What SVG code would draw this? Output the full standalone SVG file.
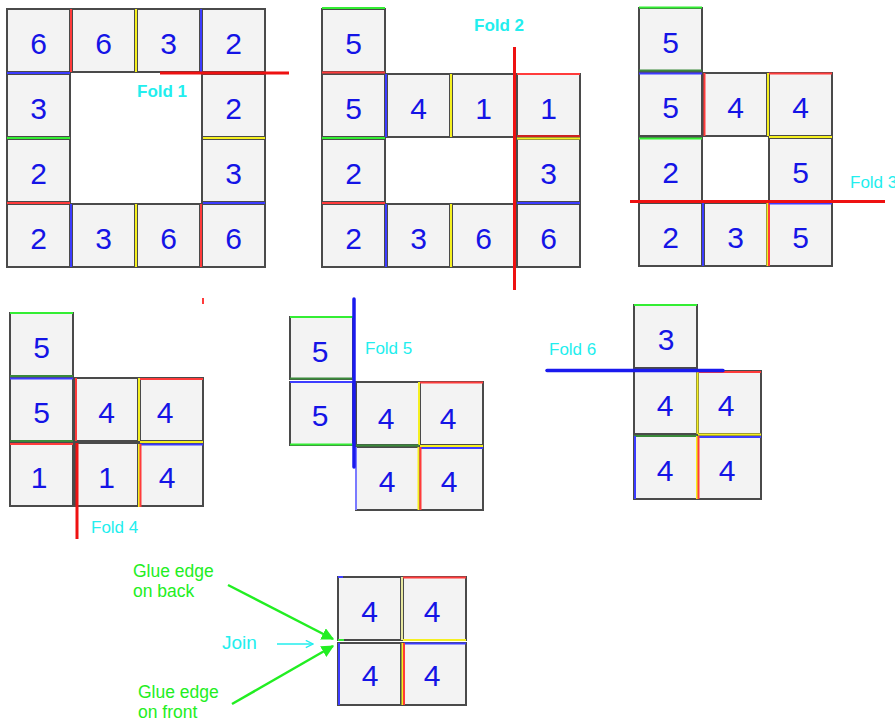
<svg xmlns="http://www.w3.org/2000/svg" width="895" height="721" viewBox="0 0 895 721">
<style>
.sq{fill:#f3f3f3;stroke:#4a4a4a;stroke-width:2}
.n{font-family:"Liberation Sans",Arial,sans-serif;font-size:30px;fill:#1414e6;text-anchor:middle}
.e{stroke-width:2;fill:none}
.r{stroke:#ff3b3b}.b{stroke:#3c3cff}.g{stroke:#33ee33}.y{stroke:#f5f020}.dg{stroke:#3a8a3a}
.fr{stroke:#ee1111;stroke-width:3}.fb{stroke:#1a1aee;stroke-width:3.5;stroke-linecap:round}
.fl{font-family:"Liberation Sans",Arial,sans-serif;font-size:17px;fill:#22eeee}
.gl{font-family:"Liberation Sans",Arial,sans-serif;font-size:17.5px;fill:#22ee22}
</style>
<defs>
<marker id="ag" viewBox="0 0 10 10" refX="9" refY="5" markerWidth="5" markerHeight="5" orient="auto"><path d="M0,0 L10,5 L0,10 z" fill="#22ee22"/></marker>
<marker id="ac" viewBox="0 0 10 10" refX="9" refY="5" markerWidth="6" markerHeight="6" orient="auto"><path d="M1,1 L9,5 L1,9" fill="none" stroke="#22eeee" stroke-width="1.5"/></marker>
</defs>
<!-- Panel 1 -->
<g id="p1-s1"><rect class="sq" x="7" y="9" width="63" height="63"/><text class="n" x="38.5" y="54">6</text></g>
<g id="p1-s2"><rect class="sq" x="72" y="9" width="63" height="63"/><text class="n" x="103.5" y="54">6</text></g>
<g id="p1-s3"><rect class="sq" x="137" y="9" width="63" height="63"/><text class="n" x="168.5" y="54">3</text></g>
<g id="p1-s4"><rect class="sq" x="202" y="9" width="63" height="63"/><text class="n" x="233.5" y="54">2</text></g>
<g id="p1-s5"><rect class="sq" x="7" y="74" width="63" height="63"/><text class="n" x="38.5" y="119">3</text></g>
<g id="p1-s6"><rect class="sq" x="202" y="74" width="63" height="63"/><text class="n" x="233.5" y="119">2</text></g>
<g id="p1-s7"><rect class="sq" x="7" y="139" width="63" height="63"/><text class="n" x="38.5" y="184">2</text></g>
<g id="p1-s8"><rect class="sq" x="202" y="139" width="63" height="63"/><text class="n" x="233.5" y="184">3</text></g>
<g id="p1-s9"><rect class="sq" x="7" y="204" width="63" height="63"/><text class="n" x="38.5" y="249">2</text></g>
<g id="p1-s10"><rect class="sq" x="72" y="204" width="63" height="63"/><text class="n" x="103.5" y="249">3</text></g>
<g id="p1-s11"><rect class="sq" x="137" y="204" width="63" height="63"/><text class="n" x="168.5" y="249">6</text></g>
<g id="p1-s12"><rect class="sq" x="202" y="204" width="63" height="63"/><text class="n" x="233.5" y="249">6</text></g>
<!-- Panel 2 -->
<g id="p2-s1"><rect class="sq" x="322" y="9" width="63" height="63"/><text class="n" x="353.5" y="54">5</text></g>
<g id="p2-s2"><rect class="sq" x="322" y="74" width="63" height="63"/><text class="n" x="353.5" y="119">5</text></g>
<g id="p2-s3"><rect class="sq" x="387" y="74" width="63" height="63"/><text class="n" x="418.5" y="119">4</text></g>
<g id="p2-s4"><rect class="sq" x="452" y="74" width="63" height="63"/><text class="n" x="483.5" y="119">1</text></g>
<g id="p2-s5"><rect class="sq" x="517" y="74" width="63" height="63"/><text class="n" x="548.5" y="119">1</text></g>
<g id="p2-s6"><rect class="sq" x="322" y="139" width="63" height="63"/><text class="n" x="353.5" y="184">2</text></g>
<g id="p2-s7"><rect class="sq" x="517" y="139" width="63" height="63"/><text class="n" x="548.5" y="184">3</text></g>
<g id="p2-s8"><rect class="sq" x="322" y="204" width="63" height="63"/><text class="n" x="353.5" y="249">2</text></g>
<g id="p2-s9"><rect class="sq" x="387" y="204" width="63" height="63"/><text class="n" x="418.5" y="249">3</text></g>
<g id="p2-s10"><rect class="sq" x="452" y="204" width="63" height="63"/><text class="n" x="483.5" y="249">6</text></g>
<g id="p2-s11"><rect class="sq" x="517" y="204" width="63" height="63"/><text class="n" x="548.5" y="249">6</text></g>
<!-- Panel 3 -->
<g id="p3-s1"><rect class="sq" x="639" y="8" width="63" height="63"/><text class="n" x="670.5" y="53">5</text></g>
<g id="p3-s2"><rect class="sq" x="639" y="73" width="63" height="63"/><text class="n" x="670.5" y="118">5</text></g>
<g id="p3-s3"><rect class="sq" x="704" y="73" width="63" height="63"/><text class="n" x="735.5" y="118">4</text></g>
<g id="p3-s4"><rect class="sq" x="769" y="73" width="63" height="63"/><text class="n" x="800.5" y="118">4</text></g>
<g id="p3-s5"><rect class="sq" x="639" y="138" width="63" height="63"/><text class="n" x="670.5" y="183">2</text></g>
<g id="p3-s6"><rect class="sq" x="769" y="138" width="63" height="63"/><text class="n" x="800.5" y="183">5</text></g>
<g id="p3-s7"><rect class="sq" x="639" y="203" width="63" height="63"/><text class="n" x="670.5" y="248">2</text></g>
<g id="p3-s8"><rect class="sq" x="704" y="203" width="63" height="63"/><text class="n" x="735.5" y="248">3</text></g>
<g id="p3-s9"><rect class="sq" x="769" y="203" width="63" height="63"/><text class="n" x="800.5" y="248">5</text></g>
<!-- Panel 4 -->
<g id="p4-s1"><rect class="sq" x="10" y="313" width="63" height="63"/><text class="n" x="41.5" y="358">5</text></g>
<g id="p4-s2"><rect class="sq" x="10" y="378" width="63" height="63"/><text class="n" x="41.5" y="423">5</text></g>
<g id="p4-s3"><rect class="sq" x="75" y="378" width="63" height="63"/><text class="n" x="106.5" y="423">4</text></g>
<g id="p4-s4"><rect class="sq" x="140" y="378" width="63" height="63"/><text class="n" x="165" y="423">4</text></g>
<g id="p4-s5"><rect class="sq" x="10" y="443" width="63" height="63"/><text class="n" x="39" y="488">1</text></g>
<g id="p4-s6"><rect class="sq" x="75" y="443" width="63" height="63"/><text class="n" x="106.5" y="488">1</text></g>
<g id="p4-s7"><rect class="sq" x="140" y="443" width="63" height="63"/><text class="n" x="167" y="488">4</text></g>
<!-- Panel 5 -->
<g id="p5-s1"><rect class="sq" x="290" y="317" width="63" height="62"/><text class="n" x="320" y="362">5</text></g>
<g id="p5-s2"><rect class="sq" x="290" y="382" width="63" height="63"/><text class="n" x="320" y="426">5</text></g>
<g id="p5-s3"><rect class="sq" x="356" y="382" width="63" height="63"/><text class="n" x="386" y="429">4</text></g>
<g id="p5-s4"><rect class="sq" x="420" y="382" width="63" height="63"/><text class="n" x="448" y="429">4</text></g>
<g id="p5-s5"><rect class="sq" x="356" y="447" width="63" height="63"/><text class="n" x="387" y="492">4</text></g>
<g id="p5-s6"><rect class="sq" x="420" y="447" width="63" height="63"/><text class="n" x="449" y="492">4</text></g>
<!-- Panel 6 -->
<g id="p6-s1"><rect class="sq" x="634" y="305" width="63" height="63"/><text class="n" x="666" y="350">3</text></g>
<g id="p6-s2"><rect class="sq" x="634" y="371" width="63" height="63"/><text class="n" x="665" y="416">4</text></g>
<g id="p6-s3"><rect class="sq" x="698" y="371" width="63" height="63"/><text class="n" x="726" y="416">4</text></g>
<g id="p6-s4"><rect class="sq" x="634" y="436" width="63" height="63"/><text class="n" x="665" y="481">4</text></g>
<g id="p6-s5"><rect class="sq" x="698" y="436" width="63" height="63"/><text class="n" x="727" y="481">4</text></g>
<!-- Panel 7 -->
<g id="p7-s1"><rect class="sq" x="338" y="577" width="63" height="63"/><text class="n" x="369.5" y="622">4</text></g>
<g id="p7-s2"><rect class="sq" x="403" y="577" width="63" height="63"/><text class="n" x="432" y="622">4</text></g>
<g id="p7-s3"><rect class="sq" x="338" y="643" width="63" height="62"/><text class="n" x="370" y="686">4</text></g>
<g id="p7-s4"><rect class="sq" x="403" y="643" width="63" height="62"/><text class="n" x="432" y="686">4</text></g>
<!-- coloured edges -->
<g id="edges" class="e">
<line class="r" x1="71" y1="9" x2="71" y2="72"/>
<line class="y" x1="136" y1="9" x2="136" y2="72"/>
<line class="b" x1="201" y1="9" x2="201" y2="72"/>
<line class="b" x1="7" y1="73" x2="70" y2="73"/>
<line class="g" x1="7" y1="138" x2="70" y2="138"/>
<line class="r" x1="7" y1="203" x2="70" y2="203"/>
<line class="y" x1="203" y1="138" x2="265" y2="138"/>
<line class="b" x1="203" y1="203" x2="265" y2="203"/>
<line class="b" x1="71" y1="204" x2="71" y2="267"/>
<line class="y" x1="136" y1="204" x2="136" y2="267"/>
<line class="r" x1="201" y1="204" x2="201" y2="267"/>

<line class="g" x1="322" y1="8" x2="385" y2="8"/>
<line class="r" x1="322" y1="72.5" x2="385" y2="72.5"/>
<line class="b" x1="386" y1="74" x2="386" y2="137"/>
<line class="y" x1="451" y1="74" x2="451" y2="137"/>
<line class="r" x1="517" y1="74" x2="580" y2="74"/>
<line class="r" x1="517" y1="136" x2="580" y2="136" style="stroke:#cc2222"/>
<line class="y" x1="517" y1="138.5" x2="580" y2="138.5"/>
<line class="g" x1="322" y1="138" x2="385" y2="138"/>
<line class="r" x1="322" y1="203" x2="385" y2="203"/>
<line class="b" x1="517" y1="203" x2="580" y2="203"/>
<line class="b" x1="386" y1="204" x2="386" y2="267"/>
<line class="y" x1="451" y1="204" x2="451" y2="267"/>

<line class="g" x1="639" y1="7.5" x2="702" y2="7.5"/>
<line class="dg" x1="639" y1="70.5" x2="702" y2="70.5"/>
<line class="b" x1="639" y1="73.5" x2="702" y2="73.5"/>
<line class="r" x1="704.5" y1="73" x2="704.5" y2="136"/>
<line class="y" x1="768" y1="73" x2="768" y2="136"/>
<line class="r" x1="769" y1="73.5" x2="832" y2="73.5"/>
<line class="y" x1="769" y1="137" x2="832" y2="137"/>
<line class="g" x1="639" y1="138.5" x2="702" y2="138.5"/>
<line class="b" x1="703" y1="203" x2="703" y2="266"/>
<line class="y" x1="767.5" y1="203" x2="767.5" y2="266"/>
<line class="r" x1="769" y1="203" x2="769" y2="266"/>
<line class="b" x1="769" y1="203.5" x2="832" y2="203.5"/>

<line class="g" x1="10" y1="313" x2="73" y2="313"/>
<line class="dg" x1="10" y1="376" x2="73" y2="376"/>
<line class="b" x1="10" y1="378.5" x2="73" y2="378.5"/>
<line class="dg" x1="10" y1="441" x2="73" y2="441"/>
<line class="r" x1="76" y1="378" x2="76" y2="441"/>
<line class="y" x1="139" y1="378" x2="139" y2="441"/>
<line class="r" x1="140" y1="379" x2="203" y2="379"/>
<line class="y" x1="140" y1="442" x2="203" y2="442"/>
<line class="r" x1="10" y1="444" x2="73" y2="444"/>
<line class="b" x1="140" y1="444.5" x2="203" y2="444.5"/>
<line class="y" x1="139" y1="444" x2="139" y2="507"/>
<line class="r" x1="140.5" y1="444" x2="140.5" y2="507"/>
<line class="r" x1="203" y1="298" x2="203" y2="304"/>

<line class="g" x1="290" y1="317" x2="353" y2="317"/>
<line class="dg" x1="290" y1="378.5" x2="353" y2="378.5"/>
<line class="b" x1="290" y1="382" x2="353" y2="382"/>
<line class="g" x1="290" y1="444.5" x2="353" y2="444.5"/>
<line class="y" x1="419" y1="382" x2="419" y2="445"/>
<line class="r" x1="420" y1="382.5" x2="483" y2="382.5"/>
<line class="y" x1="420" y1="446" x2="483" y2="446"/>
<line class="b" x1="420" y1="448" x2="483" y2="448"/>
<line class="dg" x1="356" y1="445.5" x2="419" y2="445.5"/>
<line class="y" x1="418.5" y1="447" x2="418.5" y2="510"/>
<line class="r" x1="420.5" y1="447" x2="420.5" y2="510"/>
<line class="b" x1="356" y1="447" x2="356" y2="510" style="stroke:#7a7aff"/>

<line class="g" x1="634" y1="305" x2="697" y2="305"/>
<line class="r" x1="698" y1="372" x2="761" y2="372"/>
<line class="y" x1="697.5" y1="371" x2="697.5" y2="434"/>
<line class="y" x1="698" y1="434.5" x2="761" y2="434.5"/>
<line class="dg" x1="634" y1="436" x2="697" y2="436"/>
<line class="b" x1="635" y1="436" x2="635" y2="499"/>
<line class="b" x1="698" y1="437" x2="761" y2="437"/>
<line class="y" x1="697" y1="436" x2="697" y2="499"/>
<line class="r" x1="698.5" y1="436" x2="698.5" y2="499"/>

<line class="b" x1="338" y1="577" x2="343" y2="577"/>
<line class="y" x1="402" y1="577" x2="402" y2="640" style="stroke:#e8e8a0"/>
<line class="r" x1="403" y1="577.5" x2="466" y2="577.5"/>
<line class="y" x1="403" y1="640" x2="466" y2="640"/>
<line class="g" x1="338" y1="640" x2="344" y2="640"/>
<line class="b" x1="339" y1="643" x2="339" y2="705"/>
<line class="b" x1="404" y1="643.5" x2="466" y2="643.5"/>
<line class="y" x1="402.5" y1="643" x2="402.5" y2="705"/>
<line class="r" x1="404" y1="643" x2="404" y2="705"/>
</g>
<!-- fold lines -->
<g id="folds">
<line class="fr" x1="160" y1="73" x2="289" y2="73"/>
<line class="fr" x1="514.5" y1="47" x2="514.5" y2="290"/>
<line class="fr" x1="630" y1="201.5" x2="885" y2="201.5"/>
<line class="fr" x1="77" y1="443" x2="77" y2="539"/>
<line class="fb" x1="354" y1="299" x2="354" y2="467"/>
<line class="fb" x1="547" y1="370.5" x2="723" y2="370.5"/>
</g>
<g id="labels">
<text class="fl" x="137" y="97" font-weight="bold">Fold 1</text>
<text class="fl" x="474" y="31" font-weight="bold">Fold 2</text>
<text class="fl" x="850" y="188">Fold 3</text>
<text class="fl" x="91" y="533">Fold 4</text>
<text class="fl" x="365" y="354">Fold 5</text>
<text class="fl" x="549" y="355">Fold 6</text>
<text class="gl" x="133" y="577">Glue edge</text>
<text class="gl" x="133" y="597">on back</text>
<text class="gl" x="138" y="698">Glue edge</text>
<text class="gl" x="138" y="718">on front</text>
<text class="fl" x="222" y="649" style="font-size:19px">Join</text>
</g>
<g id="connectors">
<line x1="228" y1="585" x2="333" y2="639" stroke="#22ee22" stroke-width="2.5" marker-end="url(#ag)"/>
<line x1="232" y1="704" x2="333" y2="646" stroke="#22ee22" stroke-width="2.5" marker-end="url(#ag)"/>
<line x1="277" y1="644" x2="313" y2="644" stroke="#22eeee" stroke-width="1.5" marker-end="url(#ac)"/>
</g>
</svg>
